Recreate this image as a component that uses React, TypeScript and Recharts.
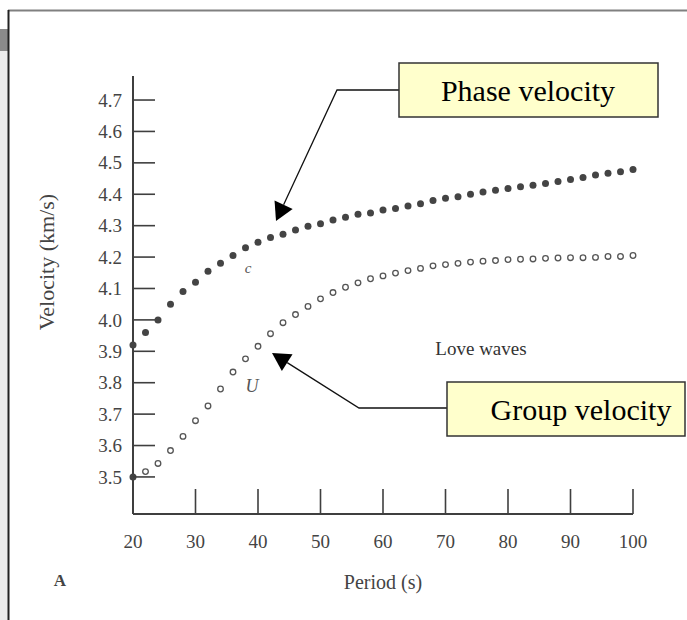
import { ScatterChart, Scatter, XAxis, YAxis } from 'recharts';

const periods = [
  20, 22, 24, 26, 28, 30, 32, 34, 36, 38, 40, 42, 44, 46, 48, 50, 52, 54, 56, 58, 60,
  62, 64, 66, 68, 70, 72, 74, 76, 78, 80, 82, 84, 86, 88, 90, 92, 94, 96, 98, 100,
];

// phase velocity c (filled dots)
const phaseVelocity = [
  3.92, 3.96, 4.0, 4.05, 4.09, 4.12, 4.155, 4.18, 4.205, 4.23, 4.247, 4.262, 4.273, 4.286,
  4.298, 4.306, 4.318, 4.327, 4.336, 4.34, 4.35, 4.355, 4.363, 4.37, 4.38, 4.387, 4.392,
  4.4, 4.407, 4.413, 4.418, 4.424, 4.429, 4.434, 4.441, 4.447, 4.453, 4.461, 4.467, 4.472,
  4.479,
];

// group velocity U (open dots)
const groupVelocity = [
  3.5, 3.517, 3.543, 3.584, 3.629, 3.679, 3.726, 3.78, 3.834, 3.876, 3.916, 3.956, 3.991,
  4.017, 4.043, 4.067, 4.087, 4.104, 4.118, 4.131, 4.14, 4.149, 4.157, 4.164, 4.172, 4.176,
  4.18, 4.184, 4.187, 4.189, 4.192, 4.193, 4.194, 4.196, 4.197, 4.198, 4.198, 4.199, 4.202,
  4.202, 4.205,
];

const xTicks = [20, 30, 40, 50, 60, 70, 80, 90, 100];
const yTicks = [3.5, 3.6, 3.7, 3.8, 3.9, 4.0, 4.1, 4.2, 4.3, 4.4, 4.5, 4.6, 4.7];

const phaseData = periods.map((p, i) => ({ period: p, v: phaseVelocity[i] }));
const groupData = periods.map((p, i) => ({ period: p, v: groupVelocity[i] }));

const SERIF = '"Liberation Serif", "DejaVu Serif", serif';
const INK = '#3f3f3f';

const YTick = ({ x, y, payload }: any) => (
  <g>
    <line x1={x} x2={x + 22} y1={y} y2={y} stroke={INK} strokeWidth={1.6} />
    <text x={x - 11} y={y} dy="0.35em" textAnchor="end" fontSize={19} fill="#444" fontFamily={SERIF}>
      {Number(payload.value).toFixed(1)}
    </text>
  </g>
);

const XTick = ({ x, y, payload }: any) => (
  <g>
    <line x1={x} x2={x} y1={y} y2={y - 25} stroke={INK} strokeWidth={1.6} />
    <text x={x} y={y + 34} textAnchor="middle" fontSize={19} fill="#444" fontFamily={SERIF}>
      {payload.value}
    </text>
  </g>
);

const FilledDot = ({ cx, cy }: any) => <circle cx={cx} cy={cy} r={3.5} fill="#444" />;

const OpenDot = ({ cx, cy, payload }: any) =>
  payload.period === 20 ? (
    <circle cx={cx} cy={cy} r={3.5} fill="#444" />
  ) : (
    <circle cx={cx} cy={cy} r={2.8} fill="#fff" stroke="#555" strokeWidth={1.3} />
  );

// callout arrow: straight line ending in a solid triangular head
const arrowHead = (fx: number, fy: number, tx: number, ty: number, len = 18, half = 10) => {
  const dx = tx - fx;
  const dy = ty - fy;
  const d = Math.hypot(dx, dy);
  const ux = dx / d;
  const uy = dy / d;
  const bx = tx - ux * len;
  const by = ty - uy * len;
  return {
    bx,
    by,
    points: `${tx},${ty} ${bx - uy * half},${by + ux * half} ${bx + uy * half},${by - ux * half}`,
  };
};

const phaseArrow = arrowHead(337, 90, 276, 221);
const groupArrow = arrowHead(359, 408, 272, 353);

export default function App() {
  return (
    <div style={{ position: 'absolute', left: 0, top: 0, width: 687, height: 620, background: '#fff', overflow: 'hidden' }}>
      <ScatterChart width={687} height={620} margin={{ top: 76, right: 54, bottom: 76, left: 73 }}>
        <XAxis
          type="number"
          dataKey="period"
          domain={[20, 100]}
          ticks={xTicks}
          interval={0}
          height={30}
          tickSize={0}
          tickMargin={0}
          tickLine={false}
          axisLine={{ stroke: INK, strokeWidth: 2 }}
          tick={<XTick />}
        />
        <YAxis
          type="number"
          dataKey="v"
          domain={[3.382, 4.7765]}
          allowDataOverflow
          ticks={yTicks}
          interval={0}
          width={60}
          tickSize={0}
          tickMargin={0}
          tickLine={false}
          axisLine={{ stroke: INK, strokeWidth: 2 }}
          tick={<YTick />}
        />
        <Scatter data={phaseData} shape={<FilledDot />} isAnimationActive={false} />
        <Scatter data={groupData} shape={<OpenDot />} isAnimationActive={false} />
      </ScatterChart>

      <svg width={687} height={620} style={{ position: 'absolute', left: 0, top: 0, pointerEvents: 'none' }}>
        {/* page frame */}
        <rect x={0} y={51} width={8} height={569} fill="#ececec" />
        <rect x={0} y={29} width={8} height={22} fill="#8a8a8a" />
        <line x1={8} x2={687} y1={10.5} y2={10.5} stroke="#808080" strokeWidth={2} />
        <line x1={8.5} x2={8.5} y1={10} y2={620} stroke="#222" strokeWidth={2} />

        <text
          transform="translate(46,262) rotate(-90)"
          textAnchor="middle"
          dy="0.35em"
          fontSize={22}
          fill="#444"
          fontFamily={SERIF}
        >
          Velocity (km/s)
        </text>
        <text x={383} y={582} dy="0.35em" textAnchor="middle" fontSize={20} fill="#444" fontFamily={SERIF}>
          Period (s)
        </text>
        <text x={60} y={580} dy="0.35em" textAnchor="middle" fontSize={17} fontWeight="bold" fill="#444" fontFamily={SERIF}>
          A
        </text>
        <text x={248} y={268} dy="0.35em" textAnchor="middle" fontSize={15} fontStyle="italic" fill="#555" fontFamily={SERIF}>
          c
        </text>
        <text x={252} y={386} dy="0.35em" textAnchor="middle" fontSize={18} fontStyle="italic" fill="#555" fontFamily={SERIF}>
          U
        </text>
        <text x={481} y={348} dy="0.35em" textAnchor="middle" fontSize={19} fill="#333" fontFamily={SERIF}>
          Love waves
        </text>

        {/* Phase velocity callout */}
        <polyline points={`399,90 337,90 ${phaseArrow.bx},${phaseArrow.by}`} fill="none" stroke="#111" strokeWidth={1.3} />
        <polygon points={phaseArrow.points} fill="#000" />
        <rect x={399} y={63} width={259} height={54} fill="#ffffcc" stroke="#333" strokeWidth={1.5} />
        <text x={528} y={90} dy="0.35em" textAnchor="middle" fontSize={30} fill="#000" fontFamily={SERIF}>
          Phase velocity
        </text>

        {/* Group velocity callout */}
        <polyline points={`447,408 359,408 ${groupArrow.bx},${groupArrow.by}`} fill="none" stroke="#111" strokeWidth={1.3} />
        <polygon points={groupArrow.points} fill="#000" />
        <rect x={447} y={382} width={238} height={54} fill="#ffffcc" stroke="#333" strokeWidth={1.5} />
        <text x={581} y={409} dy="0.35em" textAnchor="middle" fontSize={30} fill="#000" fontFamily={SERIF}>
          Group velocity
        </text>
      </svg>
    </div>
  );
}
